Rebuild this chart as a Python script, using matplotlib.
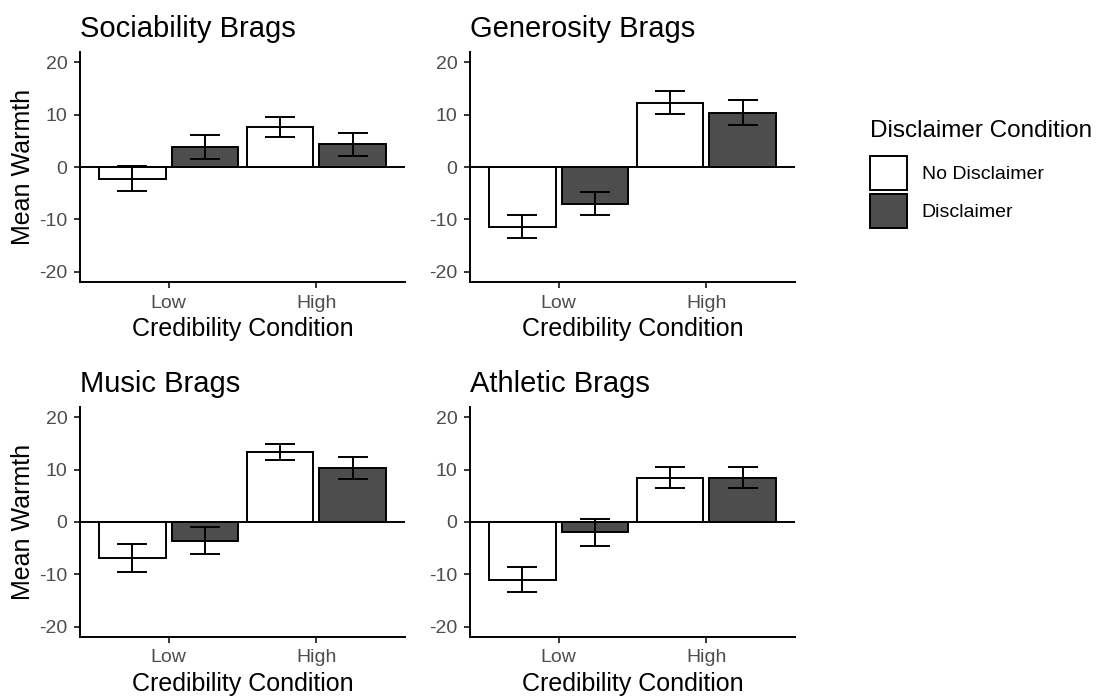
import numpy as np
import matplotlib
matplotlib.use('Agg')
import matplotlib.pyplot as plt
from matplotlib.patches import Patch

plt.rcParams['font.family'] = ['Liberation Sans', 'DejaVu Sans']

# data
panels = ['Sociability Brags', 'Generosity Brags', 'Music Brags', 'Athletic Brags']
cred = ['Low', 'High']
groups = ['No Disclaimer', 'Disclaimer']

# means: [No Disclaimer Low, No Disclaimer High], [Disclaimer Low, Disclaimer High]
no_disc_mean = [[-2.2, 7.7], [-11.4, 12.3], [-6.9, 13.4], [-11.0, 8.5]]
disc_mean = [[3.85, 4.4], [-7.0, 10.4], [-3.6, 10.3], [-2.0, 8.5]]
no_disc_err = [[2.4, 1.9], [2.15, 2.15], [2.6, 1.6], [2.35, 2.05]]
disc_err = [[2.25, 2.2], [2.2, 2.35], [2.6, 2.1], [2.5, 2.05]]

fills = ['white', '#4d4d4d']
tick_col = '#4d4d4d'

W, H = 1102, 698
fig = plt.figure(figsize=(W / 100, H / 100), dpi=100)

# axes boxes in pixels: left, top, right, bottom
boxes = [(80, 52, 405, 282), (470, 52, 795, 282),
         (80, 407, 405, 637), (470, 407, 795, 637)]

x = np.arange(1, len(cred) + 1)
offs = [-0.245, 0.245]
bw = 0.45
lw = 1.4

for i, name in enumerate(panels):
    l, t, r, b = boxes[i]
    ax = fig.add_axes([l / W, 1 - b / H, (r - l) / W, (b - t) / H])
    means = [no_disc_mean[i], disc_mean[i]]
    errs = [no_disc_err[i], disc_err[i]]
    for g in range(2):
        ax.bar(x + offs[g], means[g], width=bw, color=fills[g],
               edgecolor='black', linewidth=lw, zorder=2)
        ax.errorbar(x + offs[g], means[g], yerr=errs[g], fmt='none',
                    ecolor='black', elinewidth=lw, capsize=10.5,
                    capthick=lw, zorder=3)
    ax.axhline(0, color='black', linewidth=lw, zorder=4)
    ax.set_xlim(0.4, 2.6)
    ax.set_ylim(-22, 22)
    ax.set_xticks(x)
    ax.set_xticklabels(cred)
    ax.set_yticks([-20, -10, 0, 10, 20])
    ax.set_yticklabels(['-20', '-10', '0', '10', '20'])
    for s in ['top', 'right']:
        ax.spines[s].set_visible(False)
    for s in ['left', 'bottom']:
        ax.spines[s].set_linewidth(lw)
    ax.tick_params(colors='black', labelcolor=tick_col, labelsize=14,
                   length=4.5, width=1.1, pad=4.5)
    ax.set_xlabel('Credibility Condition', fontsize=18, labelpad=4)
    if i % 2 == 0:
        ax.set_ylabel('Mean Warmth', fontsize=18, labelpad=3)
    ax.set_title(name, fontsize=21, loc='left', pad=11)

# legend: title as separate text, keys below
fig.text(870 / W, 1 - 131 / H, 'Disclaimer Condition', fontsize=17.5,
         ha='left', va='center')
handles = [Patch(facecolor=fills[g], edgecolor='black', linewidth=lw)
           for g in range(2)]
leg = fig.legend(handles, groups, loc='upper left',
                 bbox_to_anchor=(870 / W, 1 - 156 / H), frameon=False,
                 borderpad=0, borderaxespad=0,
                 fontsize=14, handlelength=1.9, handleheight=2.3,
                 labelspacing=0.2, handletextpad=0.75)

fig.savefig('out.png', dpi=100)
